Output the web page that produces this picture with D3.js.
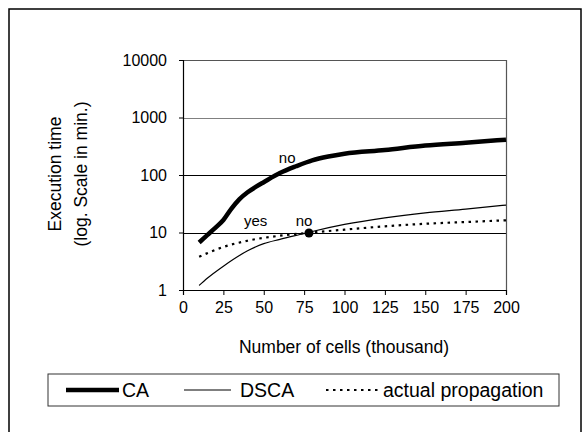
<!DOCTYPE html>
<html>
<head>
<meta charset="utf-8">
<script src="https://cdn.jsdelivr.net/npm/d3@7"></script>
<style>
  body { margin: 0; background: #fff; }
  text { font-family: "Liberation Sans", Arial, sans-serif; fill: #000; }
</style>
</head>
<body>
<script>
// data (x in thousand cells, y in minutes)
var caX = [10, 15, 20, 25, 30, 35, 40, 45, 50, 60, 70, 80, 90, 100, 125, 150, 175, 200];
var caY = [6.7, 9, 12, 16.5, 26, 38, 50, 62, 75, 108, 142, 180, 210, 235, 272, 325, 365, 412];
var dscaX = [10, 15, 25, 40, 50, 60, 75, 80, 100, 125, 150, 175, 200];
var dscaY = [1.2, 1.6, 2.6, 4.8, 6.4, 7.6, 9.6, 10.4, 13.8, 18, 22, 25.5, 30];
var propX = [10, 25, 40, 60, 78, 100, 125, 150, 175, 200];
var propY = [3.8, 5.6, 7.2, 8.8, 9.9, 11.2, 12.8, 14.2, 15.2, 16.3];
var xTicks = [0, 25, 50, 75, 100, 125, 150, 175, 200];
var yTicks = [1, 10, 100, 1000, 10000];
var marker = [78, 9.8];
var notes = [
  { text: "no", x: 64.5, y: 160 },
  { text: "yes", x: 45, y: 12.8 },
  { text: "no", x: 75, y: 12.8 }
];
var legendNames = ["CA", "DSCA", "actual propagation"];

var width = 588, height = 432;
var pLeft = 183, pRight = 506, pTop = 60, pBottom = 290;

var svg = d3.select("body").append("svg")
  .attr("width", width)
  .attr("height", height);

// outer frame
svg.append("rect")
  .attr("x", 9).attr("y", 9)
  .attr("width", 572).attr("height", 440)
  .attr("fill", "none")
  .attr("stroke", "#000")
  .attr("stroke-width", 1.5);

var x = d3.scaleLinear().domain([0, 200]).range([pLeft, pRight]);
var y = d3.scaleLog().domain([1, 10000]).range([pBottom, pTop]);

// grid lines
svg.selectAll(".grid")
  .data(yTicks.slice(1, 4))
  .enter()
  .append("line")
  .attr("x1", pLeft).attr("x2", pRight)
  .attr("y1", function (d) { return Math.round(y(d)) + 0.5; })
  .attr("y2", function (d) { return Math.round(y(d)) + 0.5; })
  .attr("stroke", function (d) { return d == 1000 ? "#808080" : "#000"; })
  .attr("stroke-width", 1);

// plot border (top/right)
svg.append("path")
  .attr("d", "M" + pLeft + "," + (pTop + 0.5) + "H" + (pRight + 0.5) + "V" + pBottom)
  .attr("fill", "none")
  .attr("stroke", "#555")
  .attr("stroke-width", 1.2);

var xAxis = svg.append("g")
  .attr("transform", "translate(0," + pBottom + ")")
  .call(d3.axisBottom(x).tickValues(xTicks).tickSize(5).tickPadding(7));
var yAxis = svg.append("g")
  .attr("transform", "translate(" + pLeft + ",0)")
  .call(d3.axisLeft(y).tickValues(yTicks).tickFormat(d3.format("d")).tickSize(4).tickPadding(12));

[xAxis, yAxis].forEach(function (g) {
  g.select(".domain").attr("stroke", "#000").attr("stroke-width", 1.2);
  g.selectAll(".tick line").attr("stroke", "#000");
  g.selectAll("text")
    .style("font-family", "'Liberation Sans', Arial, sans-serif")
    .style("font-size", "16px")
    .attr("fill", "#000");
});

// axis titles
svg.append("text")
  .attr("x", 344).attr("y", 353)
  .attr("text-anchor", "middle")
  .style("font-size", "17.5px")
  .text("Number of cells (thousand)");

svg.append("text")
  .attr("transform", "translate(61,174) rotate(-90)")
  .attr("text-anchor", "middle")
  .style("font-size", "17.5px")
  .text("Execution time");
svg.append("text")
  .attr("transform", "translate(87,174) rotate(-90)")
  .attr("text-anchor", "middle")
  .style("font-size", "17.5px")
  .text("(log. Scale in min.)");

var line = d3.line()
  .x(function (d) { return x(d[0]); })
  .y(function (d) { return y(d[1]); })
  .curve(d3.curveMonotoneX);

svg.append("path")
  .datum(d3.zip(propX, propY))
  .attr("d", line)
  .attr("fill", "none")
  .attr("stroke", "#000")
  .attr("stroke-width", 2.2)
  .attr("stroke-dasharray", "2.5,4.5");

svg.append("path")
  .datum(d3.zip(dscaX, dscaY))
  .attr("d", line)
  .attr("fill", "none")
  .attr("stroke", "#000")
  .attr("stroke-width", 1.2);

svg.append("path")
  .datum(d3.zip(caX, caY))
  .attr("d", line)
  .attr("fill", "none")
  .attr("stroke", "#000")
  .attr("stroke-width", 4.5);

svg.append("circle")
  .attr("cx", x(marker[0]))
  .attr("cy", y(marker[1]))
  .attr("r", 4.5)
  .attr("fill", "#000");

svg.selectAll(".note")
  .data(notes)
  .enter()
  .append("text")
  .attr("x", function (d) { return x(d.x); })
  .attr("y", function (d) { return y(d.y); })
  .attr("text-anchor", "middle")
  .style("font-size", "15px")
  .text(function (d) { return d.text; });

// legend
var legend = svg.append("g");
legend.append("rect")
  .attr("x", 48).attr("y", 374)
  .attr("width", 511).attr("height", 32)
  .attr("fill", "#fff")
  .attr("stroke", "#333")
  .attr("stroke-width", 1);

var legendItems = [
  { x1: 66, x2: 119, tx: 122, w: 4.5, dash: null },
  { x1: 184, x2: 231, tx: 240, w: 1.2, dash: null },
  { x1: 326, x2: 379, tx: 383, w: 2.2, dash: "2.5,4.5" }
];
legendItems.forEach(function (it, i) {
  legend.append("line")
    .attr("x1", it.x1).attr("x2", it.x2)
    .attr("y1", 390).attr("y2", 390)
    .attr("stroke", "#000")
    .attr("stroke-width", it.w)
    .attr("stroke-dasharray", it.dash);
  legend.append("text")
    .attr("x", it.tx).attr("y", 396.5)
    .style("font-size", "19.5px")
    .text(legendNames[i]);
});
</script>
</body>
</html>
